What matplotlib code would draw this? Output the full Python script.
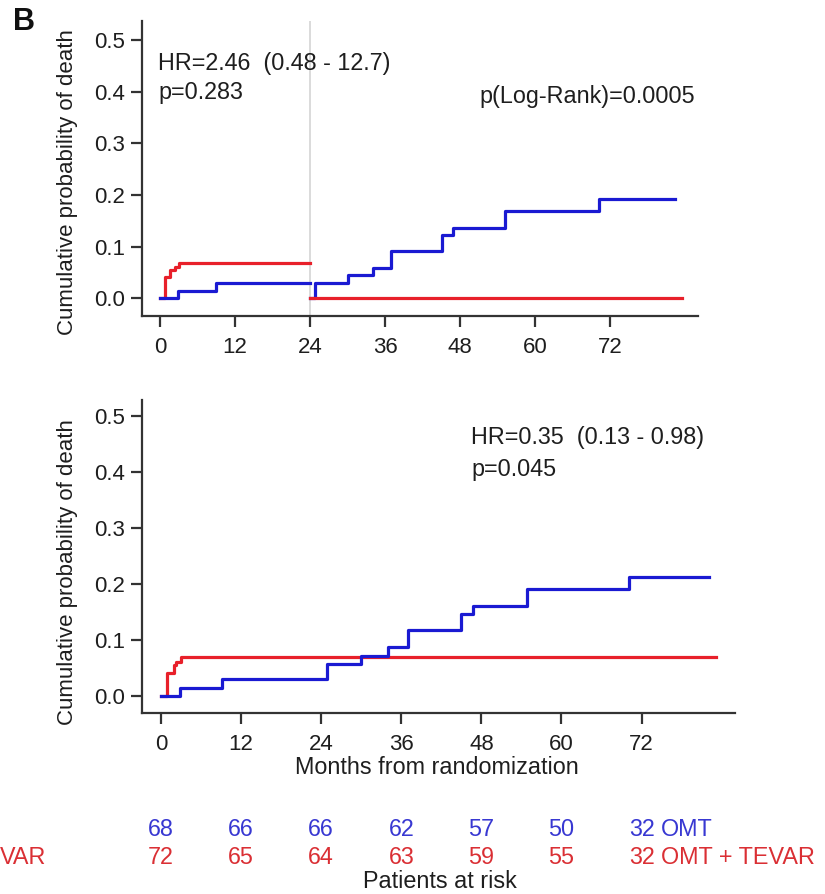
import matplotlib
matplotlib.use("Agg")
import matplotlib.pyplot as plt
import matplotlib.transforms as mtransforms

plt.rcParams['font.family'] = ['Liberation Sans', 'DejaVu Sans']

# ---------------- data ----------------
# Top panel: landmark analysis (0-24 months, then reset at 24 months)
top_red_early_t = [0, 0.75, 1.7, 2.4, 3.0, 24]
top_red_early_y = [0, 0.042, 0.055, 0.060, 0.069, 0.069]
top_blue_early_t = [0, 2.9, 8.9, 24]
top_blue_early_y = [0, 0.0147, 0.029, 0.029]
top_blue_late_t = [24, 24.8, 30.0, 34.0, 37.0, 45.1, 46.9, 55.1, 70.1, 82.3]
top_blue_late_y = [0, 0.029, 0.045, 0.059, 0.0915, 0.1225, 0.137, 0.169, 0.192, 0.192]
top_red_late_t = [24, 83.4]
top_red_late_y = [0, 0]

# Bottom panel: full follow-up
bot_red_t = [0, 0.85, 1.9, 2.3, 3.0, 83.1]
bot_red_y = [0, 0.0405, 0.055, 0.060, 0.069, 0.069]
bot_blue_t = [0, 2.9, 9.1, 24.9, 30.0, 34.0, 37.0, 45.0, 46.8, 54.9, 70.1, 82.1]
bot_blue_y = [0, 0.0149, 0.030, 0.057, 0.072, 0.087, 0.117, 0.146, 0.161, 0.191, 0.213, 0.213]

x_ticks = [0, 12, 24, 36, 48, 60, 72]
y_ticks = [0.0, 0.1, 0.2, 0.3, 0.4, 0.5]
y_tick_labels = ["0.0", "0.1", "0.2", "0.3", "0.4", "0.5"]

risk_omt = [68, 66, 66, 62, 57, 50, 32]
risk_tevar = [72, 65, 64, 63, 59, 55, 32]

# ---------------- style ----------------
BLUE = '#1a1ad2'
RED = '#e8202a'
BLUE_TXT = '#3838d2'
RED_TXT = '#da2f34'
SPINE = '#333333'
TXT = '#1e1e1e'
FS = 16
FS_ANN = 16.8
LW = 2.3

fig = plt.figure(figsize=(8.25, 8.94), dpi=100)
W, H = 825.0, 894.0


def px_axes(left, top, right, bottom):
    return fig.add_axes([left / W, 1 - bottom / H, (right - left) / W, (bottom - top) / H])


ax1 = px_axes(141.7, 20.7, 698, 316)
ax2 = px_axes(141.7, 400, 735, 713.3)

for ax, ylim in ((ax1, (-0.034, 0.537)), (ax2, (-0.031, 0.529))):
    ax.set_xlim(-2.9, 86.0)
    ax.set_ylim(*ylim)
    for s in ('top', 'right'):
        ax.spines[s].set_visible(False)
    for s in ('left', 'bottom'):
        ax.spines[s].set_color(SPINE)
        ax.spines[s].set_linewidth(1.6)
    ax.set_xticks(x_ticks)
    ax.set_xticklabels([str(v) for v in x_ticks])
    ax.set_yticks(y_ticks)
    ax.set_yticklabels(y_tick_labels)
    ax.tick_params(axis='both', colors=SPINE, labelcolor=TXT, labelsize=FS,
                   width=1.6, length=8, direction='out')
    ax.tick_params(axis='x', pad=7)
    ax.tick_params(axis='y', pad=4)
    ax.patch.set_alpha(0)

# Top panel
ax1.axvline(24, color='#d4d4d4', lw=1.2, zorder=1)
ax1.step(top_red_early_t, top_red_early_y, where='post', color=RED, lw=LW, zorder=3)
ax1.step(top_blue_early_t, top_blue_early_y, where='post', color=BLUE, lw=LW, zorder=3)
ax1.step(top_blue_late_t, top_blue_late_y, where='post', color=BLUE, lw=LW, zorder=3)
ax1.step(top_red_late_t, top_red_late_y, where='post', color=RED, lw=LW, zorder=4)

ax1.text(-0.3, 0.455, "HR=2.46  (0.48 - 12.7)", fontsize=FS_ANN, color=TXT, va='center', ha='left')
ax1.text(-0.3, 0.398, "p=0.283", fontsize=FS_ANN, color=TXT, va='center', ha='left')
ax1.text(51.0, 0.390, "p(Log-Rank)=0.0005", fontsize=FS_ANN, color=TXT, va='center', ha='left')

# Bottom panel
ax2.step(bot_red_t, bot_red_y, where='post', color=RED, lw=LW, zorder=3)
ax2.step(bot_blue_t, bot_blue_y, where='post', color=BLUE, lw=LW, zorder=4)

ax2.text(46.5, 0.462, "HR=0.35  (0.13 - 0.98)", fontsize=FS_ANN, color=TXT, va='center', ha='left')
ax2.text(46.5, 0.404, "p=0.045", fontsize=FS_ANN, color=TXT, va='center', ha='left')

# Axis labels
fig.text(68 / W, 1 - 182 / H, "Cumulative probability of death", rotation=90,
         fontsize=FS, color=TXT, ha='center', va='center')
fig.text(68 / W, 1 - 572 / H, "Cumulative probability of death", rotation=90,
         fontsize=FS, color=TXT, ha='center', va='center')
fig.text(437 / W, 1 - 768 / H, "Months from randomization", fontsize=FS_ANN, color=TXT,
         ha='center', va='center')

# Panel letter
fig.text(24 / W, 1 - 22 / H, "B", fontsize=22, fontweight='bold', color='#111111',
         ha='center', va='center')

# Patients at risk table
trans = mtransforms.blended_transform_factory(ax2.transData, fig.transFigure)
y_omt = 1 - 830 / H
y_tev = 1 - 857 / H
for t, n in zip(x_ticks, risk_omt):
    ax2.text(t, y_omt, str(n), transform=trans, fontsize=FS_ANN, color=BLUE_TXT,
             ha='center', va='center', clip_on=False)
for t, n in zip(x_ticks, risk_tevar):
    ax2.text(t, y_tev, str(n), transform=trans, fontsize=FS_ANN, color=RED_TXT,
             ha='center', va='center', clip_on=False)
ax2.annotate("OMT", xy=(x_ticks[-1], y_omt), xycoords=trans, xytext=(14, 0),
             textcoords='offset points', fontsize=FS_ANN, color=BLUE_TXT, ha='left', va='center',
             annotation_clip=False)
ax2.annotate("OMT + TEVAR", xy=(x_ticks[-1], y_tev), xycoords=trans, xytext=(14, 0),
             textcoords='offset points', fontsize=FS_ANN, color=RED_TXT, ha='left', va='center',
             annotation_clip=False)
fig.text(0 / W, y_tev, "VAR", fontsize=FS_ANN, color=RED_TXT, ha='left', va='center')
fig.text(440 / W, 1 - 882 / H, "Patients at risk", fontsize=FS_ANN, color=TXT,
         ha='center', va='center')

fig.savefig("out.png", dpi=100, facecolor='white')
